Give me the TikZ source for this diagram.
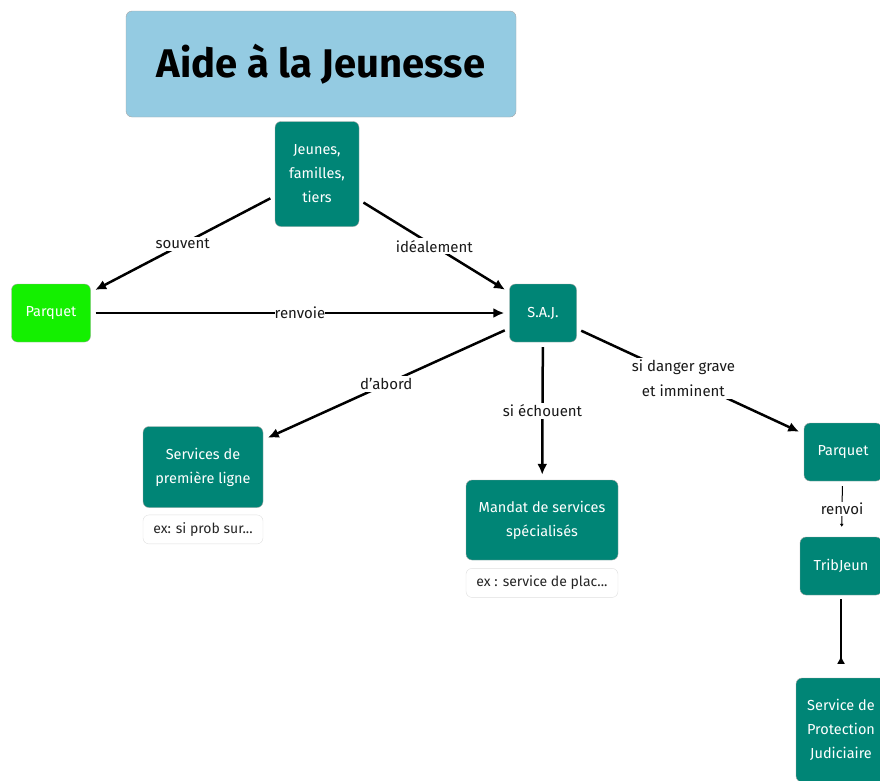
\documentclass[tikz,border=0pt]{standalone}
\usepackage{fontspec}
\setmainfont{Fira Sans}
\usetikzlibrary{arrows.meta,positioning}

\definecolor{teal1}{RGB}{0,133,118}
\definecolor{skyblue}{RGB}{148,203,226}
\definecolor{lime1}{RGB}{20,240,0}

\begin{document}
\begin{tikzpicture}[x=1pt, y=-1pt,
  box/.style={draw=gray!70, fill=teal1, rounded corners=6pt, align=center,
              text=white, font=\fontsize{14.5}{24}\selectfont, inner sep=3pt},
  note/.style={draw=gray!25, fill=white, rounded corners=6pt, align=center,
               text=gray!30!black, font=\fontsize{14}{16}\selectfont,
               minimum height=29pt, inner sep=2pt},
  lbl/.style={fill=white, text=gray!20!black, align=center, inner sep=2pt,
              font=\fontsize{15}{25}\selectfont},
  arr/.style={line width=2.5pt, -{Latex[length=11pt,width=10pt]},
              shorten >=5pt, shorten <=5pt}
]
\useasboundingbox (0,0) rectangle (880,780);

\node[draw=gray!70, fill=skyblue, rounded corners=6pt, minimum width=390pt,
      minimum height=106pt, font=\fontsize{40}{42}\bfseries\selectfont]
      (title) at (321,64) {Aide à la Jeunesse};

\node[box, minimum width=84pt, minimum height=105pt] (jeunes) at (317,174) {Jeunes,\\familles,\\tiers};
\node[box, fill=lime1, minimum width=79pt, minimum height=58pt] (parq1) at (51,313) {Parquet};
\node[box, minimum width=67pt, minimum height=58pt] (saj) at (543,313) {S.A.J.};
\node[box, minimum width=120pt, minimum height=81pt] (prem) at (203,467) {Services de\\première ligne};
\node[note, minimum width=120pt, below=7pt of prem] (ex1) {ex: si prob sur...};
\node[box, minimum width=152pt, minimum height=80pt] (mandat) at (542,520) {Mandat de services\\spécialisés};
\node[note, minimum width=152pt, below=8pt of mandat] (ex2) {ex : service de plac...};
\node[box, minimum width=78pt, minimum height=58pt] (parq2) at (843,452) {Parquet};
\node[box, minimum width=82pt, minimum height=58pt] (trib) at (841,566) {TribJeun};
\node[box, minimum width=90pt, minimum height=104pt] (spj) at (841,730) {Service de\\Protection\\Judiciaire};

% liens
\draw[arr] (jeunes) -- node[lbl] {souvent} (parq1);
\draw[arr] (jeunes) -- node[lbl] {idéalement} (saj);
\draw[arr] (parq1) -- node[lbl, inner sep=0pt] {renvoie} (saj);
\draw[arr] (saj) -- node[lbl] {d\symbol{39}abord} (prem);
\draw[arr] (saj) -- node[lbl] {si échouent} (mandat);
\draw[arr] (saj) -- node[lbl, pos=0.47] {si danger grave\\et imminent} (parq2);
\draw[line width=1pt, -{Latex[length=3pt,width=4pt]}, shorten <=5pt, shorten >=10pt]
  (parq2) -- node[lbl, inner sep=1pt] {renvoi} (trib);
\draw[line width=2pt, -{Latex[reversed,length=8pt,width=8pt]}, shorten <=4pt, shorten >=14pt]
  (trib) -- (spj);
\end{tikzpicture}
\end{document}
